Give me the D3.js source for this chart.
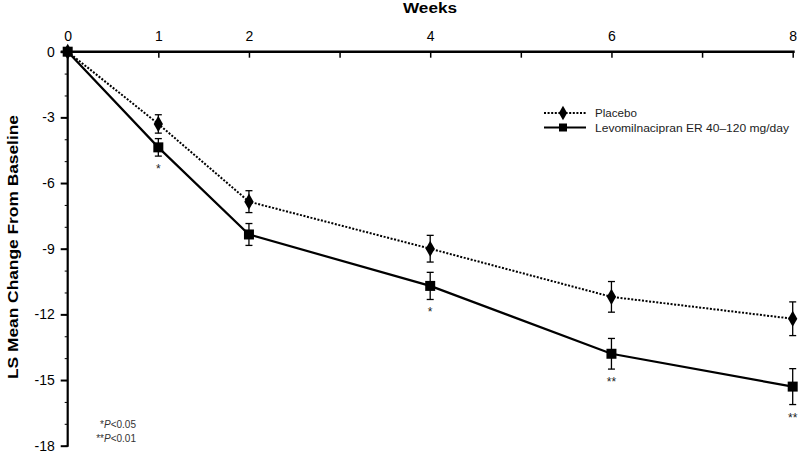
<!DOCTYPE html>
<html>
<head>
<meta charset="utf-8">
<script src="https://cdn.jsdelivr.net/npm/d3@7"></script>
<style>
  html, body { margin: 0; padding: 0; background: #fff; }
  svg { display: block; font-family: "Liberation Sans", Arial, Helvetica, sans-serif; }
</style>
</head>
<body>
<svg id="chart" width="800" height="454"></svg>
<script>
// ---- Data ----
const weeks = [0, 1, 2, 4, 6, 8];
const placeboMean = [0, -3.3, -6.85, -9.0, -11.2, -12.2];
const placeboSE = [0, 0.42, 0.5, 0.61, 0.7, 0.77];
const drugMean = [0, -4.37, -8.35, -10.7, -13.8, -15.3];
const drugSE = [0, 0.4, 0.5, 0.62, 0.7, 0.82];
const drugSig = ["", "*", "", "*", "**", "**"];
const xTickLabels = [0, 1, 2, 4, 6, 8];
const xTicksAll = [0, 1, 2, 3, 4, 5, 6, 7, 8];
const yTickLabels = [0, -3, -6, -9, -12, -15, -18];
const seriesNames = ["Placebo", "Levomilnacipran ER 40\u2013120 mg/day"];

// ---- Layout ----
const svg = d3.select("#chart");
const x = d3.scaleLinear().domain([0, 8]).range([67.7, 792.7]);
const y = d3.scaleLinear().domain([0, -18]).range([51.7, 445.7]);

// Y axis
const yAxisG = svg.append("g").attr("transform", `translate(${x(0)},0)`);
yAxisG.call(d3.axisLeft(y).tickValues(d3.range(0, -19, -1)).tickSize(3).tickFormat(""))
  .call(g => g.select(".domain").remove())
  .call(g => g.selectAll("line").attr("stroke", "#000").attr("stroke-width", 1));
yAxisG.append("g").call(d3.axisLeft(y).tickValues(yTickLabels).tickSize(7).tickPadding(6)
    .tickFormat(d => d === 0 ? "0" : "-" + Math.abs(d)))
  .call(g => g.select(".domain").remove())
  .call(g => g.selectAll("line").attr("stroke", "#000").attr("stroke-width", 2))
  .call(g => g.selectAll("text").attr("font-size", 14).attr("fill", "#000")
    .attr("font-family", "Liberation Sans, Arial, sans-serif"));
svg.append("line").attr("x1", x(0)).attr("x2", x(0)).attr("y1", y(0)).attr("y2", y(-18) + 1)
  .attr("stroke", "#000").attr("stroke-width", 2.2);

// X axis (top)
const xAxisG = svg.append("g").attr("transform", `translate(0,${y(0)})`);
xAxisG.call(d3.axisBottom(x).tickValues(xTicksAll.filter(d => d > 0)).tickSize(6).tickFormat(""))
  .call(g => g.select(".domain").remove())
  .call(g => g.selectAll("line").attr("stroke", "#000").attr("stroke-width", 1.5));
xAxisG.append("g").call(d3.axisTop(x).tickValues(xTickLabels).tickSize(0).tickPadding(11).tickFormat(d3.format("d")))
  .call(g => g.select(".domain").remove())
  .call(g => g.selectAll("text").attr("font-size", 14).attr("fill", "#000")
    .attr("font-family", "Liberation Sans, Arial, sans-serif"));
svg.append("line").attr("x1", x(0) - 7).attr("x2", x(8) + 2).attr("y1", y(0)).attr("y2", y(0))
  .attr("stroke", "#000").attr("stroke-width", 2.4);

// Axis titles
svg.append("text").attr("x", 430).attr("y", 13).attr("text-anchor", "middle")
  .attr("font-size", 14.5).attr("font-weight", "bold")
  .attr("textLength", 54).attr("lengthAdjust", "spacingAndGlyphs").text("Weeks");
svg.append("text").attr("transform", `translate(18,${247}) rotate(-90)`)
  .attr("text-anchor", "middle").attr("font-size", 15).attr("font-weight", "bold")
  .attr("textLength", 264).attr("lengthAdjust", "spacingAndGlyphs")
  .text("LS Mean Change From Baseline");

// ---- Series ----
const placebo = weeks.map((w, i) => ({ w, m: placeboMean[i], se: placeboSE[i] }));
const drug = weeks.map((w, i) => ({ w, m: drugMean[i], se: drugSE[i], sig: drugSig[i] }));

const line = d3.line().x(d => x(d.w)).y(d => y(d.m));

svg.append("path").datum(placebo).attr("d", line).attr("fill", "none")
  .attr("stroke", "#000").attr("stroke-width", 2).attr("stroke-dasharray", "2,1.6");
svg.append("path").datum(drug).attr("d", line).attr("fill", "none")
  .attr("stroke", "#000").attr("stroke-width", 2.2);

function errorBars(data) {
  const g = svg.append("g");
  data.filter(d => d.se > 0).forEach(d => {
    const cx = x(d.w), t = y(d.m + d.se), b = y(d.m - d.se);
    g.append("line").attr("x1", cx).attr("x2", cx).attr("y1", t).attr("y2", b)
      .attr("stroke", "#000").attr("stroke-width", 1.3);
    g.append("line").attr("x1", cx - 3.5).attr("x2", cx + 3.5).attr("y1", t).attr("y2", t)
      .attr("stroke", "#000").attr("stroke-width", 1.3);
    g.append("line").attr("x1", cx - 3.5).attr("x2", cx + 3.5).attr("y1", b).attr("y2", b)
      .attr("stroke", "#000").attr("stroke-width", 1.3);
  });
}
errorBars(placebo);
errorBars(drug);

const diamond = d3.symbol().type(d3.symbolDiamond).size(75);
const square = d3.symbol().type(d3.symbolSquare).size(100);

svg.append("g").selectAll("path").data(placebo).join("path")
  .attr("transform", d => `translate(${x(d.w)},${y(d.m)})`)
  .attr("d", diamond).attr("fill", "#000");
svg.append("g").selectAll("path").data(drug).join("path")
  .attr("transform", d => `translate(${x(d.w)},${y(d.m)})`)
  .attr("d", square).attr("fill", "#000");

// significance markers
svg.append("g").selectAll("text").data(drug.filter(d => d.sig)).join("text")
  .attr("x", d => x(d.w)).attr("y", d => y(d.m - d.se) + 17)
  .attr("text-anchor", "middle").attr("font-size", 12).attr("fill", "#222")
  .text(d => d.sig);

// ---- Legend ----
const legend = svg.append("g");
const legRows = [
  { name: seriesNames[0], dash: "2,1.6", yy: 113, len: 42 },
  { name: seriesNames[1], dash: null, yy: 127.5, len: 194 }
];
legRows.forEach((r, i) => {
  legend.append("line").attr("x1", 544).attr("x2", 586).attr("y1", r.yy).attr("y2", r.yy)
    .attr("stroke", "#000").attr("stroke-width", 2).attr("stroke-dasharray", r.dash);
  legend.append("path").attr("transform", `translate(563,${r.yy})`)
    .attr("d", i === 0 ? d3.symbol().type(d3.symbolDiamond).size(60) : d3.symbol().type(d3.symbolSquare).size(64))
    .attr("fill", "#000");
  legend.append("text").attr("x", 595).attr("y", r.yy + 4).attr("font-size", 11.5)
    .attr("fill", "#222").attr("textLength", r.len).attr("lengthAdjust", "spacingAndGlyphs")
    .text(r.name);
});

// ---- Footnote ----
const foot = svg.append("g").attr("font-size", 10).attr("fill", "#333");
const f1 = foot.append("text").attr("x", 136).attr("y", 428).attr("text-anchor", "end");
f1.append("tspan").text("*");
f1.append("tspan").attr("font-style", "italic").text("P");
f1.append("tspan").text("<0.05");
const f2 = foot.append("text").attr("x", 136).attr("y", 442).attr("text-anchor", "end");
f2.append("tspan").text("**");
f2.append("tspan").attr("font-style", "italic").text("P");
f2.append("tspan").text("<0.01");
</script>
</body>
</html>
